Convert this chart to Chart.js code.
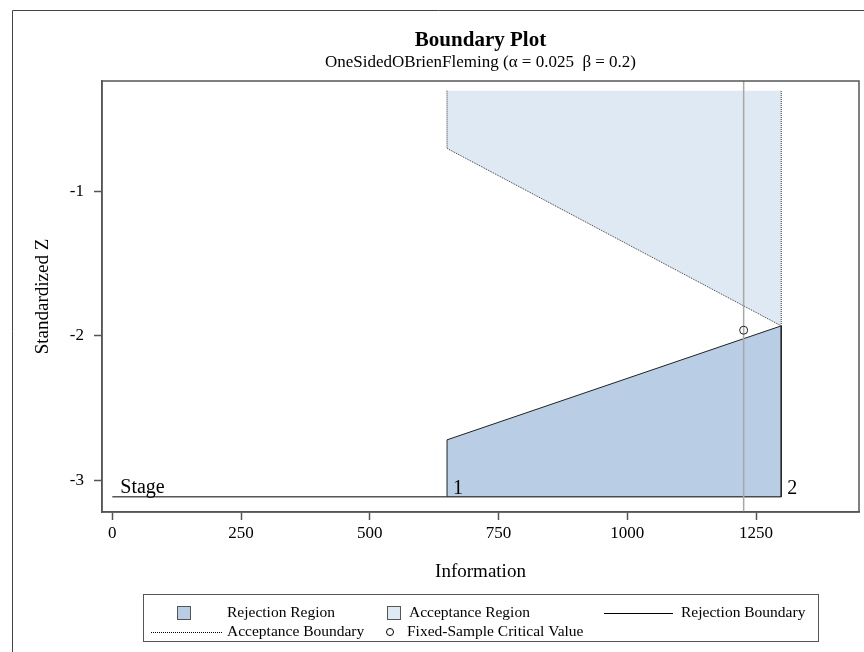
<!DOCTYPE html>
<html>
<head>
<meta charset="utf-8">
<script src="https://cdn.jsdelivr.net/npm/chart.js@4/dist/chart.umd.min.js"></script>
<style>
  html, body { margin: 0; padding: 0; background: #fff; }
  #wrap { width: 864px; height: 652px; }
</style>
</head>
<body>
<div id="wrap"><canvas id="c" width="864" height="652"></canvas></div>
<script>
// Group-sequential design: two stages, one-sided lower boundaries
const stageInfo = [650, 1299];          // information at each stage
const stageNames = ['1', '2'];
const rejectZ = [-2.72, -1.93];         // rejection boundary (standardized Z)
const acceptZ = [-0.70, -1.93];         // acceptance boundary (standardized Z)
const regionTopZ = -0.30;               // upper edge of the acceptance region
const stageLineZ = -3.115;              // level of the stage axis line
const fixedInfo = [1226];               // fixed-sample information
const fixedCritZ = [-1.96];             // fixed-sample critical value
const xTicks = [0, 250, 500, 750, 1000, 1250];
const yTicks = [-1, -2, -3];
const xRange = [-20, 1450];
const yRange = [-3.22, -0.233];

const SERIF = '"Liberation Serif", "DejaVu Serif", serif';

const pts = (xs, ys) => xs.map((x, i) => ({ x: x, y: ys[i] }));

const rejectRegion = pts(
  [stageInfo[0], stageInfo[0], stageInfo[1], stageInfo[1]],
  [stageLineZ, rejectZ[0], rejectZ[1], stageLineZ]);
const acceptRegion = pts(
  [stageInfo[0], stageInfo[0], stageInfo[1], stageInfo[1]],
  [regionTopZ, acceptZ[0], acceptZ[1], regionTopZ]);

const decorations = {
  id: 'decorations',
  afterDraw(chart) {
    const ctx = chart.ctx;
    const area = chart.chartArea;
    const xs = chart.scales.x, ys = chart.scales.y;
    ctx.save();

    // outer frame
    ctx.strokeStyle = '#444';
    ctx.lineWidth = 1;
    ctx.beginPath();
    ctx.moveTo(12.5, 652); ctx.lineTo(12.5, 10.5); ctx.lineTo(864, 10.5);
    ctx.stroke();

    // plot frame
    ctx.strokeStyle = '#555';
    ctx.lineWidth = 1.5;
    ctx.strokeRect(area.left, area.top, area.right - area.left, area.bottom - area.top);

    const cx = (area.left + area.right) / 2;
    ctx.fillStyle = '#000';
    ctx.textAlign = 'center';
    ctx.textBaseline = 'alphabetic';
    ctx.font = 'bold 21px ' + SERIF;
    ctx.fillText('Boundary Plot', cx, 46);
    ctx.font = '17px ' + SERIF;
    ctx.fillText('OneSidedOBrienFleming (\u03B1 = 0.025  \u03B2 = 0.2)', cx, 67);

    // axis titles
    ctx.font = '19px ' + SERIF;
    ctx.fillText('Information', cx, 577);
    ctx.save();
    ctx.translate(48, (area.top + area.bottom) / 2);
    ctx.rotate(-Math.PI / 2);
    ctx.fillText('Standardized Z', 0, 0);
    ctx.restore();

    // stage labels
    const sy = ys.getPixelForValue(stageLineZ) - 4;
    ctx.font = '20px ' + SERIF;
    ctx.textAlign = 'left';
    ctx.fillText('Stage', xs.getPixelForValue(0) + 8, sy);
    stageInfo.forEach((v, i) => {
      ctx.fillText(stageNames[i], xs.getPixelForValue(v) + 6, sy + 1);
    });

    // legend
    ctx.strokeStyle = '#555';
    ctx.lineWidth = 1;
    ctx.strokeRect(143.5, 594.5, 675, 47);
    ctx.font = '15.5px ' + SERIF;
    ctx.textBaseline = 'middle';
    const r1 = 613, r2 = 632;
    // rejection region swatch
    ctx.fillStyle = '#b9cee5';
    ctx.fillRect(177.5, r1 - 6.5, 13, 13);
    ctx.strokeStyle = '#555';
    ctx.strokeRect(177.5, r1 - 6.5, 13, 13);
    ctx.fillStyle = '#000';
    ctx.fillText('Rejection Region', 227, r1);
    // acceptance region swatch
    ctx.fillStyle = '#dfe9f4';
    ctx.fillRect(387.5, r1 - 6.5, 13, 13);
    ctx.strokeRect(387.5, r1 - 6.5, 13, 13);
    ctx.fillStyle = '#000';
    ctx.fillText('Acceptance Region', 409, r1);
    // rejection boundary line
    ctx.strokeStyle = '#000';
    ctx.beginPath(); ctx.moveTo(604, r1 + 0.5); ctx.lineTo(673, r1 + 0.5); ctx.stroke();
    ctx.fillText('Rejection Boundary', 681, r1);
    // acceptance boundary dotted line
    ctx.setLineDash([1, 1]);
    ctx.beginPath(); ctx.moveTo(151, r2 + 0.5); ctx.lineTo(222, r2 + 0.5); ctx.stroke();
    ctx.setLineDash([]);
    ctx.fillText('Acceptance Boundary', 227, r2);
    // fixed-sample marker
    ctx.beginPath(); ctx.arc(390, r2, 3.5, 0, Math.PI * 2); ctx.stroke();
    ctx.fillText('Fixed-Sample Critical Value', 407, r2);

    ctx.restore();
  }
};

new Chart(document.getElementById('c'), {
  type: 'line',
  data: {
    datasets: [
      {
        label: 'Fixed-Sample Info',
        data: pts([fixedInfo[0], fixedInfo[0]], [yRange[0], yRange[1]]),
        borderColor: '#a8a8a8', borderWidth: 1.5, pointRadius: 0, fill: false, order: 1
      },
      {
        label: 'Fixed-Sample Critical Value',
        data: pts(fixedInfo, fixedCritZ),
        showLine: false, pointRadius: 4, pointBorderWidth: 1,
        pointBorderColor: '#222', pointBackgroundColor: 'rgba(255,255,255,0)', order: 0
      },
      {
        label: 'Acceptance Boundary',
        data: acceptRegion,
        borderColor: '#333', borderWidth: 1, borderDash: [1, 1],
        pointRadius: 0, fill: false, order: 2
      },
      {
        label: 'Rejection Boundary',
        data: rejectRegion,
        borderColor: '#222', borderWidth: 1, pointRadius: 0, fill: false, order: 2
      },
      {
        label: 'Stage',
        data: pts([0, stageInfo[1]], [stageLineZ, stageLineZ]),
        borderColor: '#000', borderWidth: 1, pointRadius: 0, fill: false, order: 2
      },
      {
        label: 'Acceptance Region',
        data: acceptRegion,
        borderWidth: 0, backgroundColor: '#dfe9f4', pointRadius: 0, fill: 'shape', order: 5
      },
      {
        label: 'Rejection Region',
        data: rejectRegion,
        borderWidth: 0, backgroundColor: '#b9cee5', pointRadius: 0, fill: 'shape', order: 5
      }
    ]
  },
  options: {
    responsive: false,
    animation: false,
    layout: { padding: { top: 81, right: 4, left: 0, bottom: 0 } },
    plugins: {
      legend: { display: false },
      title: { display: false },
      tooltip: { enabled: false },
      filler: { drawTime: 'beforeDatasetsDraw' }
    },
    elements: { line: { tension: 0 } },
    scales: {
      x: {
        type: 'linear',
        min: xRange[0], max: xRange[1],
        afterFit(s) { s.height = 140; },
        afterBuildTicks(s) { s.ticks = xTicks.map(v => ({ value: v })); },
        grid: { drawOnChartArea: false, drawTicks: true, tickLength: 8, tickColor: '#555', tickWidth: 1.5 },
        border: { display: true, color: '#555', width: 1.5 },
        ticks: { color: '#000', font: { family: SERIF, size: 17 }, padding: 3, maxRotation: 0,
                 callback: v => String(v) }
      },
      y: {
        type: 'linear',
        min: yRange[0], max: yRange[1],
        afterFit(s) { s.width = 102; },
        afterBuildTicks(s) { s.ticks = yTicks.map(v => ({ value: v })); },
        grid: { drawOnChartArea: false, drawTicks: true, tickLength: 8, tickColor: '#555', tickWidth: 1.5 },
        border: { display: true, color: '#555', width: 1.5 },
        ticks: { color: '#000', font: { family: SERIF, size: 17 }, padding: 10,
                 callback: v => String(v) }
      }
    }
  },
  plugins: [decorations]
});
</script>
</body>
</html>
